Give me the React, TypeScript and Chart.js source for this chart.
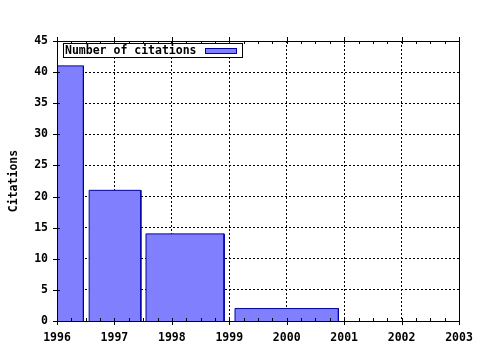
import React, { useEffect, useRef } from "react";
import { Chart, registerables } from "chart.js";

Chart.register(...registerables);

const binStart = [1996.0, 1996.56, 1997.55, 1999.1];
const binEnd = [1996.46, 1997.46, 1998.91, 2000.9];
const citations = [41, 21, 14, 2];
const seriesLabel = "Number of citations";
const yTitle = "Citations";
const xMin = 1996;
const xMax = 2003;
const yMin = 0;
const yMax = 45;
const yStep = 5;

const FONT = 'bold 11.5px "DejaVu Sans Mono", monospace';
const FILL = "#8080ff";
const EDGE = "#0000a0";

const framePlugin = {
  id: "frame",
  afterDraw(chart: any) {
    const { ctx, chartArea } = chart;
    const { left, right, top, bottom } = chartArea;
    const xs = chart.scales.x;
    const ys = chart.scales.y;
    ctx.save();
    ctx.strokeStyle = "#000";
    ctx.lineWidth = 1;
    ctx.setLineDash([]);
    ctx.strokeRect(Math.round(left) + 0.5, Math.round(top) + 0.5, Math.round(right - left), Math.round(bottom - top));
    ctx.beginPath();
    for (let yr = xMin; yr <= xMax; yr++) {
      const px = Math.round(xs.getPixelForValue(yr)) + 0.5;
      ctx.moveTo(px, bottom - 3);
      ctx.lineTo(px, bottom + 4);
      ctx.moveTo(px, top - 4);
      ctx.lineTo(px, top + 3);
      if (yr < xMax) {
        for (let k = 1; k < 4; k++) {
          const mx = Math.round(xs.getPixelForValue(yr + k / 4)) + 0.5;
          ctx.moveTo(mx, bottom);
          ctx.lineTo(mx, bottom - 3);
          ctx.moveTo(mx, top);
          ctx.lineTo(mx, top + 3);
        }
      }
    }
    for (let v = yMin; v <= yMax; v += yStep) {
      const py = Math.round(ys.getPixelForValue(v)) + 0.5;
      ctx.moveTo(left - 4, py);
      ctx.lineTo(left + 3, py);
    }
    ctx.stroke();

    ctx.font = FONT;
    ctx.fillStyle = "#000";
    ctx.textAlign = "center";
    ctx.textBaseline = "middle";
    ctx.save();
    ctx.translate(14, (top + bottom) / 2);
    ctx.rotate(-Math.PI / 2);
    ctx.fillText(yTitle, 0, 0);
    ctx.restore();

    const bx = Math.round(left) + 6.5;
    const by = Math.round(top) + 2.5;
    ctx.font = FONT;
    const tw = ctx.measureText(seriesLabel).width;
    const sw = 31;
    const bw = Math.round(2 + tw + 8 + sw + 6);
    ctx.fillStyle = "#fff";
    ctx.fillRect(bx, by, bw, 14);
    ctx.strokeStyle = "#000";
    ctx.strokeRect(bx, by, bw, 14);
    ctx.fillStyle = "#000";
    ctx.textAlign = "left";
    ctx.textBaseline = "middle";
    ctx.fillText(seriesLabel, bx + 1.5, by + 7.5);
    const sx = Math.round(bx + 2 + tw + 8) + 0.5;
    ctx.fillStyle = FILL;
    ctx.fillRect(sx, by + 5, sw, 5);
    ctx.strokeStyle = EDGE;
    ctx.strokeRect(sx, by + 5, sw, 5);
    ctx.restore();
  },
};

export default function App() {
  const ref = useRef<HTMLCanvasElement>(null);
  useEffect(() => {
    if (!ref.current) return;
    const datasets = citations.map((v, i) => ({
      label: i === 0 ? seriesLabel : "",
      data: [
        { x: binStart[i], y: 0 },
        { x: binStart[i], y: v },
        { x: binEnd[i], y: v },
        { x: binEnd[i], y: 0 },
      ],
      backgroundColor: FILL,
      borderColor: EDGE,
      borderWidth: 1,
      fill: "origin",
      pointRadius: 0,
      tension: 0,
    }));
    const chart = new Chart(ref.current, {
      type: "line",
      data: { datasets },
      plugins: [framePlugin],
      options: {
        animation: false,
        responsive: false,
        devicePixelRatio: 1,
        layout: { padding: { top: 41, right: 21, left: 0, bottom: 0 } },
        plugins: { legend: { display: false }, tooltip: { enabled: false } },
        scales: {
          x: {
            type: "linear",
            min: xMin,
            max: xMax,
            afterFit: (s: any) => {
              s.height = 29;
            },
            ticks: {
              stepSize: 1,
              color: "#000",
              font: { family: '"DejaVu Sans Mono", monospace', size: 11.5, weight: "bold" },
              padding: 6,
              maxRotation: 0,
              callback: (v: any) => String(v),
            },
            grid: {
              color: "#000",
              tickColor: "transparent",
              tickLength: 4,
            },
            border: { display: false, dash: [2, 2] },
          },
          y: {
            min: yMin,
            max: yMax,
            afterFit: (s: any) => {
              s.width = 57;
            },
            ticks: {
              stepSize: yStep,
              color: "#000",
              font: { family: '"DejaVu Sans Mono", monospace', size: 11.5, weight: "bold" },
              padding: 5,
            },
            grid: {
              color: "#000",
              tickColor: "transparent",
              tickLength: 4,
            },
            border: { display: false, dash: [2, 2] },
          },
        },
      },
    } as any);
    return () => chart.destroy();
  }, []);
  return (
    <div style={{ position: "absolute", left: 0, top: 0, width: 480, height: 350, background: "#fff" }}>
      <canvas ref={ref} width={480} height={350} />
    </div>
  );
}
